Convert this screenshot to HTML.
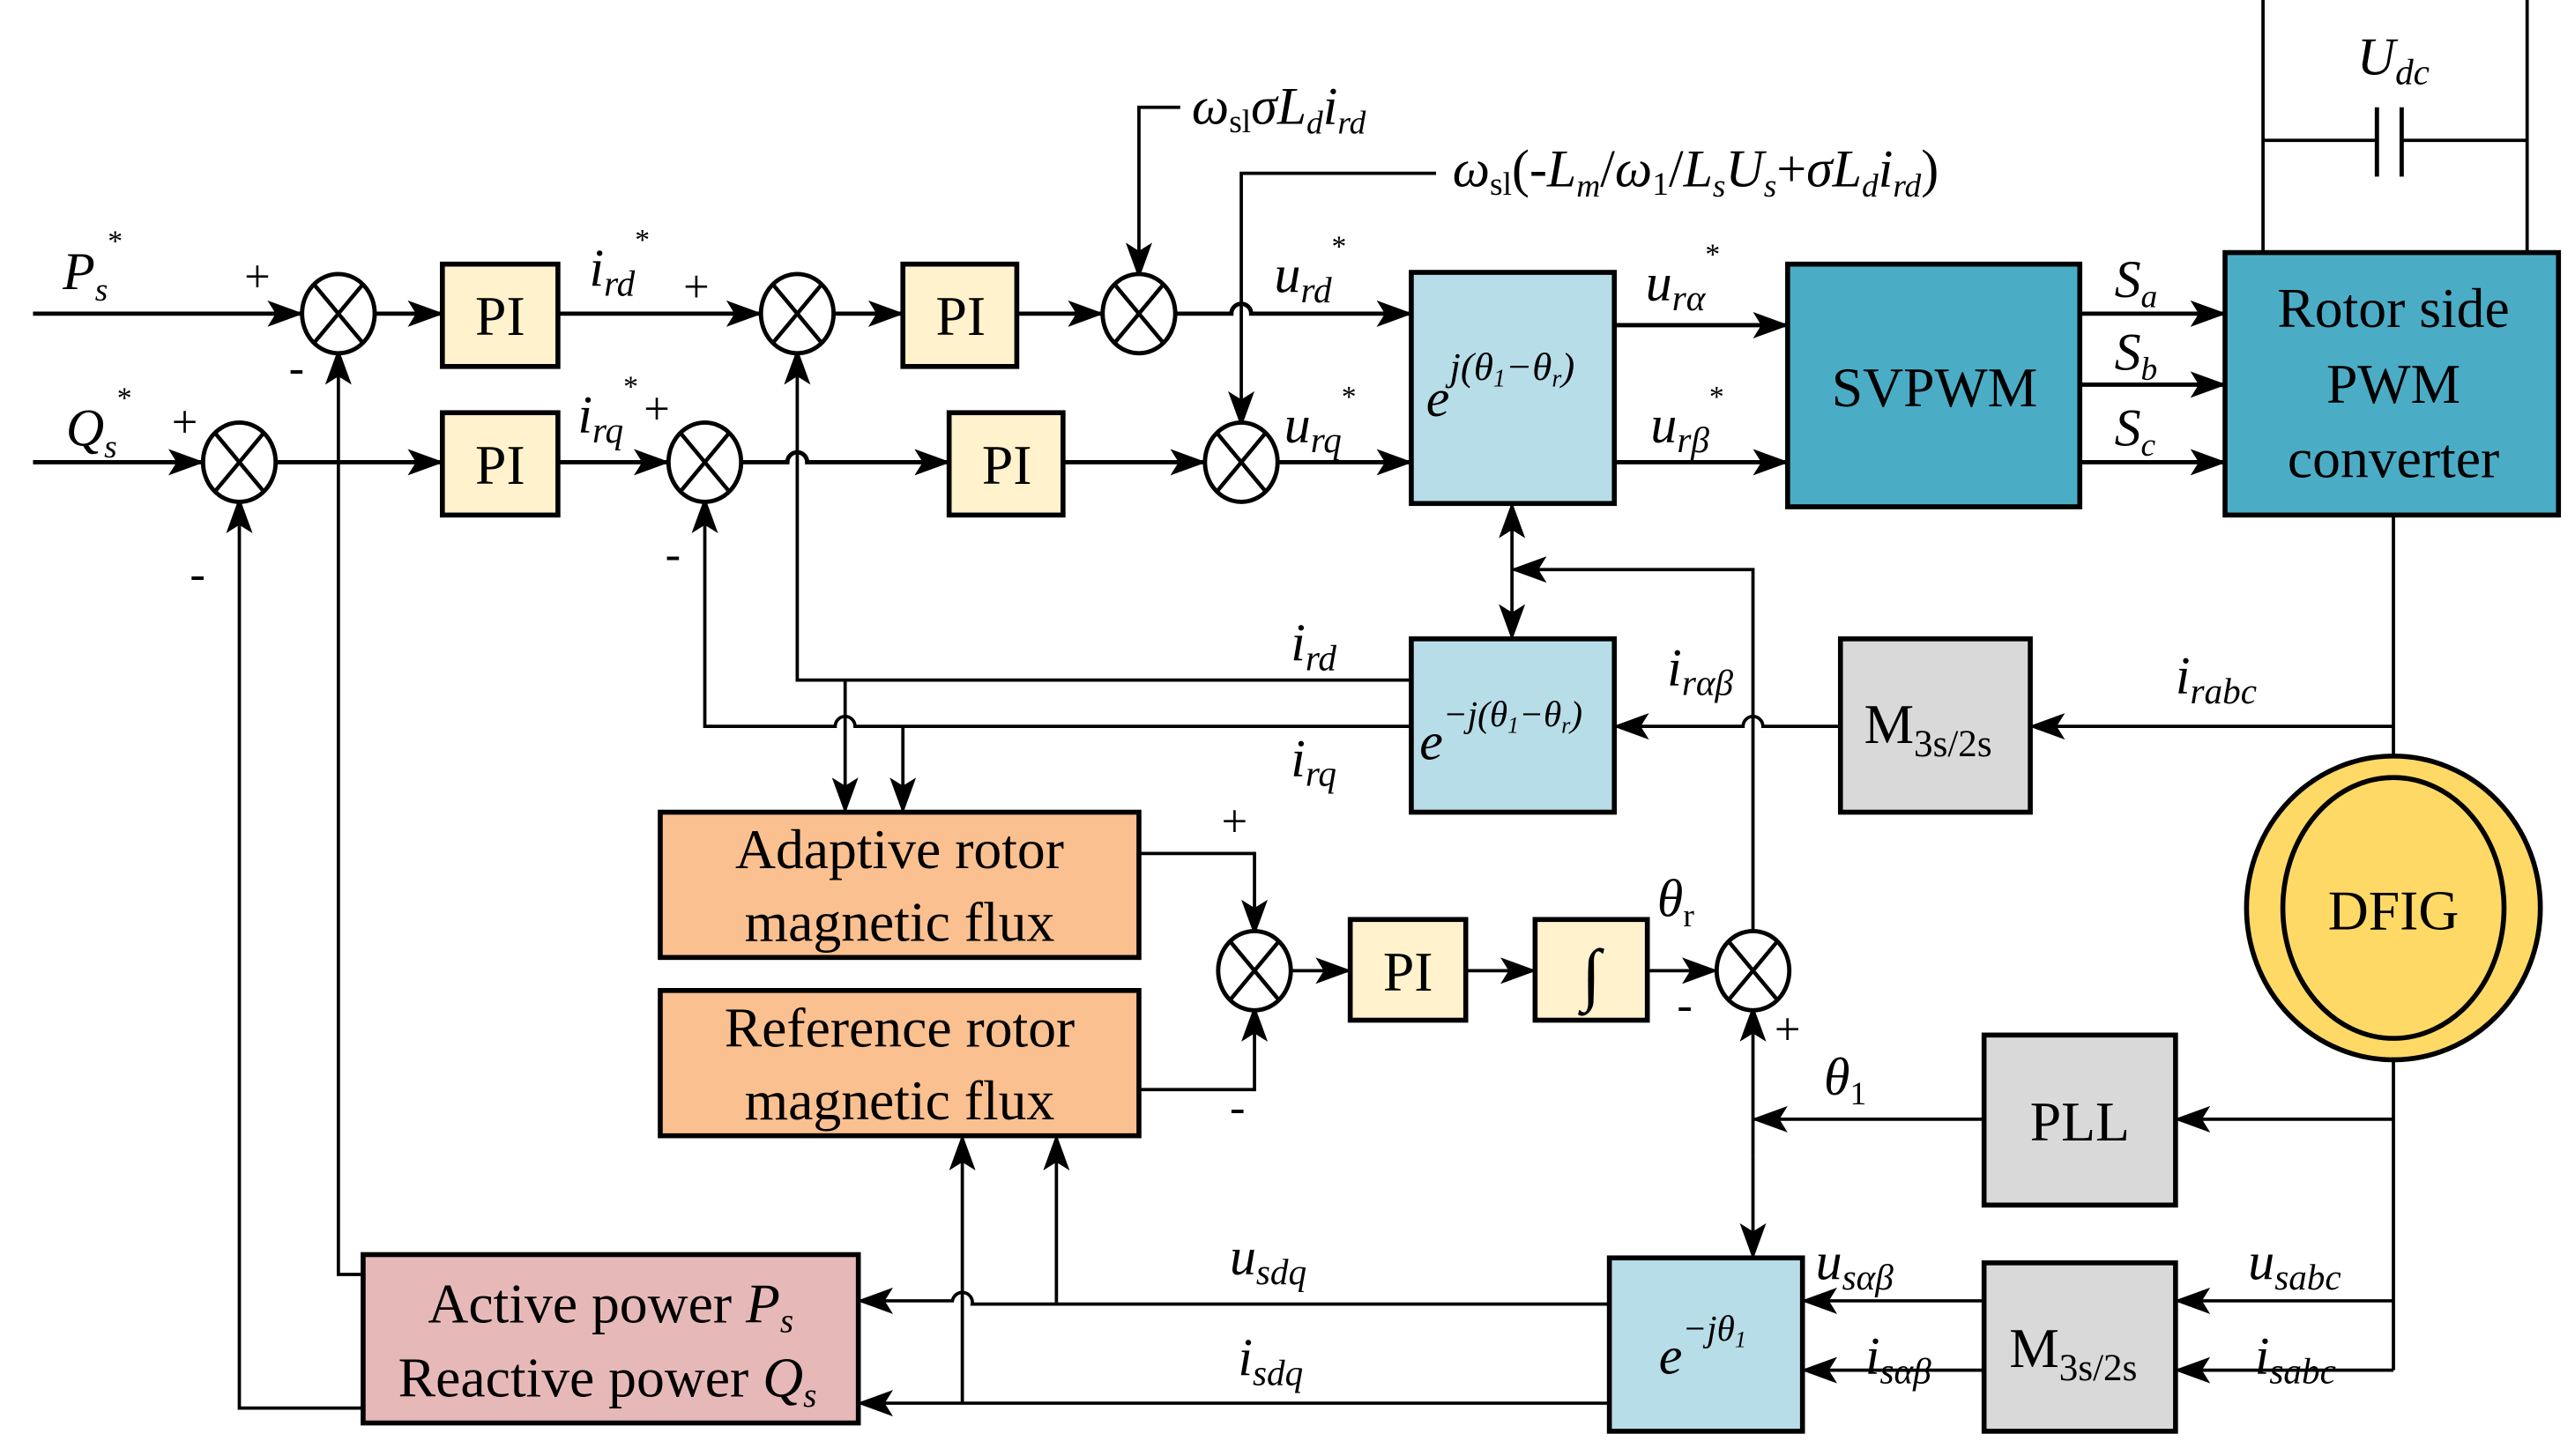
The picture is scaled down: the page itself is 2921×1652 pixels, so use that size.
<!DOCTYPE html>
<html><head><meta charset="utf-8"><style>
html,body{margin:0;padding:0;background:#fff;}
svg{display:block;}
text{font-family:"Liberation Serif",serif;fill:#000;}
.it{font-style:italic;}
</style></head><body>
<svg width="2921" height="1652" viewBox="0 0 1560 882" preserveAspectRatio="none" xmlns="http://www.w3.org/2000/svg">
<defs>
<marker id="a" markerUnits="userSpaceOnUse" markerWidth="22" markerHeight="16" refX="21" refY="8" orient="auto">
<path d="M0,0 L22,8 L0,16 L5,8 z" fill="#000"/>
</marker>
</defs>
<g fill="none" stroke="#000" stroke-width="2.6">
<path d="M20,190 H183" marker-end="url(#a)"/>
<path d="M227,190 H268" marker-end="url(#a)"/>
<path d="M338,190 H461" marker-end="url(#a)"/>
<path d="M505,190 H547" marker-end="url(#a)"/>
<path d="M616,190 H668" marker-end="url(#a)"/>
<path d="M712,190 H746 A6,6 0 0 1 758,190 H855" marker-end="url(#a)"/>
<path d="M20,280 H123" marker-end="url(#a)"/>
<path d="M167,280 H268" marker-end="url(#a)"/>
<path d="M338,280 H405" marker-end="url(#a)"/>
<path d="M449,280 H477 A6,6 0 0 1 489,280 H575" marker-end="url(#a)"/>
<path d="M644,280 H730" marker-end="url(#a)"/>
<path d="M774,280 H855" marker-end="url(#a)"/>
<path d="M978,197 H1083" marker-end="url(#a)"/>
<path d="M978,280 H1083" marker-end="url(#a)"/>
<path d="M1260,190 H1348" marker-end="url(#a)"/>
<path d="M1260,233 H1348" marker-end="url(#a)"/>
<path d="M1260,280 H1348" marker-end="url(#a)"/>
</g>
<g fill="none" stroke="#000" stroke-width="2">
<path d="M715,65 H690 V168" marker-end="url(#a)"/>
<path d="M870,105 H752 V258" marker-end="url(#a)"/>
<path d="M220,772 H205 V212" marker-end="url(#a)"/>
<path d="M220,853 H145 V302" marker-end="url(#a)"/>
<path d="M855,412 H483 V212" marker-end="url(#a)"/>
<path d="M855,440 H518 A6,6 0 0 0 506,440 H427 V302" marker-end="url(#a)"/>
<path d="M512,412 V492" marker-end="url(#a)"/>
<path d="M547,440 V492" marker-end="url(#a)"/>
<path d="M916,345 V305" marker-end="url(#a)"/>
<path d="M916,345 V387" marker-end="url(#a)"/>
<path d="M1062,566 V345 H916" marker-end="url(#a)"/>
<path d="M1115,440 H1068 A6,6 0 0 0 1056,440 H978" marker-end="url(#a)"/>
<path d="M1450,440 H1230" marker-end="url(#a)"/>
<path d="M1450,312 V460"/>
<path d="M1450,640 V830"/>
<path d="M1450,678 H1318" marker-end="url(#a)"/>
<path d="M1202,678 H1062" marker-end="url(#a)"/>
<path d="M1062,700 V610" marker-end="url(#a)"/>
<path d="M1062,700 V762" marker-end="url(#a)"/>
<path d="M1450,788 H1318" marker-end="url(#a)"/>
<path d="M1450,830 H1318" marker-end="url(#a)"/>
<path d="M1202,788 H1092" marker-end="url(#a)"/>
<path d="M1202,830 H1092" marker-end="url(#a)"/>
<path d="M975,790 H589 A6,6 0 0 0 577,788 H520" marker-end="url(#a)"/>
<path d="M975,850 H520" marker-end="url(#a)"/>
<path d="M583,850 V688" marker-end="url(#a)"/>
<path d="M640,789 V688" marker-end="url(#a)"/>
<path d="M690,517 H760 V566" marker-end="url(#a)"/>
<path d="M690,660 H760 V610" marker-end="url(#a)"/>
<path d="M782,588 H818" marker-end="url(#a)"/>
<path d="M888,588 H930" marker-end="url(#a)"/>
<path d="M998,588 H1040" marker-end="url(#a)"/>
<path d="M1371,0 V153 M1531,0 V153 M1371,85 H1440 M1455,85 H1531"/>
<path d="M1440,65 V107 M1455,65 V107" stroke-width="2.6"/>
</g>
<g fill="#fff" stroke="#000" stroke-width="2.6">
<ellipse cx="205" cy="190" rx="22" ry="24"/>
<ellipse cx="483" cy="190" rx="22" ry="24"/>
<ellipse cx="690" cy="190" rx="22" ry="24"/>
<ellipse cx="145" cy="280" rx="22" ry="24"/>
<ellipse cx="427" cy="280" rx="22" ry="24"/>
<ellipse cx="752" cy="280" rx="22" ry="24"/>
<ellipse cx="760" cy="588" rx="22" ry="24"/>
<ellipse cx="1062" cy="588" rx="22" ry="24"/>
</g>
<g stroke="#000" stroke-width="2.4">
<path d="M190,172 L220,208 M220,172 L190,208 M468,172 L498,208 M498,172 L468,208 M675,172 L705,208 M705,172 L675,208 M130,262 L160,298 M160,262 L130,298 M412,262 L442,298 M442,262 L412,298 M737,262 L767,298 M767,262 L737,298 M745,570 L775,606 M775,570 L745,606 M1047,570 L1077,606 M1077,570 L1047,606"/>
</g>
<g stroke="#000" stroke-width="3">
<rect x="268" y="160" width="70" height="62" fill="#fff2cc"/>
<rect x="547" y="160" width="69" height="62" fill="#fff2cc"/>
<rect x="268" y="250" width="70" height="62" fill="#fff2cc"/>
<rect x="575" y="250" width="69" height="62" fill="#fff2cc"/>
<rect x="818" y="557" width="70" height="61" fill="#fff2cc"/>
<rect x="930" y="557" width="68" height="61" fill="#fff2cc"/>
<rect x="855" y="165" width="123" height="140" fill="#b7dde8"/>
<rect x="855" y="387" width="123" height="105" fill="#b7dde8"/>
<rect x="975" y="762" width="117" height="105" fill="#b7dde8"/>
<rect x="1083" y="160" width="177" height="147" fill="#4bacc6"/>
<rect x="1348" y="153" width="202" height="159" fill="#4bacc6"/>
<rect x="1115" y="387" width="115" height="105" fill="#d9d9d9"/>
<rect x="1202" y="627" width="116" height="103" fill="#d9d9d9"/>
<rect x="1202" y="765" width="116" height="102" fill="#d9d9d9"/>
<rect x="400" y="492" width="290" height="88" fill="#fac090"/>
<rect x="400" y="600" width="290" height="88" fill="#fac090"/>
<rect x="220" y="760" width="300" height="102" fill="#e6b9b8"/>
<ellipse cx="1450" cy="550" rx="89" ry="92" fill="#ffd966"/>
<ellipse cx="1450" cy="550" rx="67" ry="79" fill="#ffd966"/>
</g>
<g font-size="34" text-anchor="middle">
<text x="303" y="203">PI</text><text x="582" y="203">PI</text>
<text x="303" y="293">PI</text><text x="610" y="293">PI</text>
<text x="853" y="600">PI</text>
<text x="964" y="604" font-size="42">∫</text>
<text x="1172" y="246">SVPWM</text>
<text x="1450" y="198">Rotor side</text>
<text x="1450" y="244">PWM</text>
<text x="1450" y="289">converter</text>
<text x="1450" y="563">DFIG</text>
<text x="1260" y="691">PLL</text>
<text x="1168" y="450">M<tspan font-size="23" dy="8">3s/2s</tspan></text>
<text x="1256" y="828">M<tspan font-size="23" dy="8">3s/2s</tspan></text>
<text x="545" y="526">Adaptive rotor</text>
<text x="545" y="570">magnetic flux</text>
<text x="545" y="634">Reference rotor</text>
<text x="545" y="678">magnetic flux</text>
<text x="370" y="801">Active power <tspan class="it">P<tspan font-size="21" dy="6">s</tspan></tspan></text>
<text x="368" y="846">Reactive power <tspan class="it">Q<tspan font-size="21" dy="6">s</tspan></tspan></text>
</g>
<g font-size="32" class="it">
<text x="864" y="252">e<tspan font-size="24" dy="-22">j(θ</tspan><tspan font-size="15" dy="4">1</tspan><tspan font-size="24" dy="-4">−θ</tspan><tspan font-size="15" dy="4">r</tspan><tspan font-size="24" dy="-4">)</tspan></text>
<text x="860" y="460">e<tspan font-size="22" dy="-20">−j(θ</tspan><tspan font-size="14" dy="4">1</tspan><tspan font-size="22" dy="-4">−θ</tspan><tspan font-size="14" dy="4">r</tspan><tspan font-size="22" dy="-4">)</tspan></text>
<text x="1005" y="832">e<tspan font-size="22" dy="-20">−jθ</tspan><tspan font-size="14" dy="4">1</tspan></text>
<text x="38" y="175">P<tspan font-size="20" dy="7">s</tspan><tspan font-size="18" dy="-30" font-style="normal">*</tspan></text>
<text x="40" y="270">Q<tspan font-size="20" dy="7">s</tspan><tspan font-size="18" dy="-30" font-style="normal">*</tspan></text>
<text x="357" y="173">i<tspan font-size="22" dy="6">rd</tspan><tspan font-size="18" dy="-28" font-style="normal">*</tspan></text>
<text x="350" y="262">i<tspan font-size="22" dy="6">rq</tspan><tspan font-size="18" dy="-28" font-style="normal">*</tspan></text>
<text x="772" y="177">u<tspan font-size="22" dy="6">rd</tspan><tspan font-size="18" dy="-28" font-style="normal">*</tspan></text>
<text x="778" y="268">u<tspan font-size="22" dy="6">rq</tspan><tspan font-size="18" dy="-28" font-style="normal">*</tspan></text>
<text x="997" y="182">u<tspan font-size="22" dy="6">rα</tspan><tspan font-size="18" dy="-28" font-style="normal">*</tspan></text>
<text x="1000" y="268">u<tspan font-size="22" dy="6">rβ</tspan><tspan font-size="18" dy="-28" font-style="normal">*</tspan></text>
<text x="1281" y="180">S<tspan font-size="20" dy="6">a</tspan></text>
<text x="1281" y="224">S<tspan font-size="20" dy="6">b</tspan></text>
<text x="1281" y="270">S<tspan font-size="20" dy="6">c</tspan></text>
<text x="1428" y="45">U<tspan font-size="22" dy="6">dc</tspan></text>
<text x="722" y="75">ω<tspan font-size="20" dy="5" font-style="normal">sl</tspan><tspan dy="-5">σL</tspan><tspan font-size="20" dy="6">d</tspan><tspan dy="-6">i</tspan><tspan font-size="20" dy="6">rd</tspan></text>
<text x="880" y="113">ω<tspan font-size="20" dy="5" font-style="normal">sl</tspan><tspan dy="-5" font-style="normal">(-</tspan><tspan dy="0">L</tspan><tspan font-size="20" dy="6">m</tspan><tspan dy="-6" font-style="normal">/</tspan><tspan>ω</tspan><tspan font-size="20" dy="5" font-style="normal">1</tspan><tspan dy="-5" font-style="normal">/</tspan><tspan>L</tspan><tspan font-size="20" dy="6">s</tspan><tspan dy="-6">U</tspan><tspan font-size="20" dy="6">s</tspan><tspan dy="-6" font-style="normal">+</tspan><tspan>σL</tspan><tspan font-size="20" dy="6">d</tspan><tspan dy="-6">i</tspan><tspan font-size="20" dy="6">rd</tspan><tspan dy="-6" font-style="normal">)</tspan></text>
<text x="782" y="400">i<tspan font-size="22" dy="6">rd</tspan></text>
<text x="782" y="470">i<tspan font-size="22" dy="6">rq</tspan></text>
<text x="1010" y="415">i<tspan font-size="22" dy="6">rαβ</tspan></text>
<text x="1318" y="420">i<tspan font-size="22" dy="6">rabc</tspan></text>
<text x="1004" y="555">θ<tspan font-size="20" dy="6" font-style="normal">r</tspan></text>
<text x="1105" y="663">θ<tspan font-size="20" dy="6" font-style="normal">1</tspan></text>
<text x="745" y="772">u<tspan font-size="22" dy="6">sdq</tspan></text>
<text x="750" y="833">i<tspan font-size="22" dy="6">sdq</tspan></text>
<text x="1100" y="775">u<tspan font-size="22" dy="6">sαβ</tspan></text>
<text x="1130" y="832">i<tspan font-size="22" dy="6">sαβ</tspan></text>
<text x="1362" y="775">u<tspan font-size="22" dy="6">sabc</tspan></text>
<text x="1366" y="832">i<tspan font-size="22" dy="6">sabc</tspan></text>
</g>
<g font-size="28">
<text x="148" y="177">+</text><text x="414" y="183">+</text><text x="104" y="265">+</text><text x="390" y="257">+</text>
<text x="740" y="507">+</text><text x="1075" y="633">+</text>
<text x="175" y="232">-</text><text x="115" y="357">-</text><text x="403" y="345">-</text>
<text x="745" y="680">-</text><text x="1016" y="618">-</text>
</g>
</svg>
</body></html>
